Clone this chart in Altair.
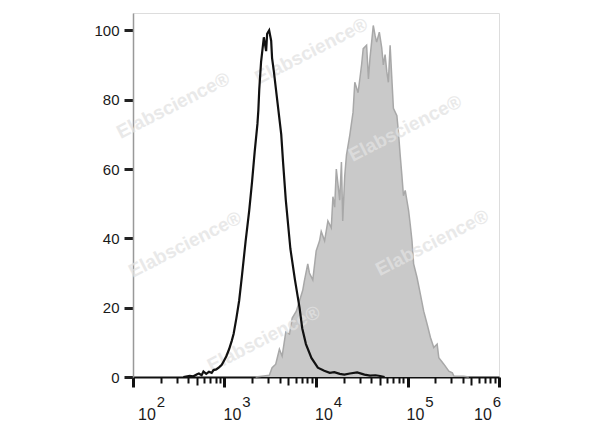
import altair as alt
import pandas as pd

# ---- data (x as log10 of intensity, y as count) ----
black_log = [2.55, 2.62, 2.66, 2.70, 2.72, 2.75, 2.77, 2.80, 2.83, 2.86,
             2.88, 2.91, 2.94, 2.97, 2.99, 3.02, 3.05, 3.08, 3.10, 3.13,
             3.16, 3.19, 3.23, 3.27, 3.30, 3.33, 3.36, 3.37, 3.38, 3.40,
             3.43, 3.455, 3.466, 3.488, 3.51, 3.52, 3.54, 3.58, 3.62, 3.64,
             3.67, 3.72, 3.77, 3.82, 3.85, 3.89, 3.95, 4.02, 4.09, 4.15,
             4.20, 4.26, 4.31, 4.37, 4.45, 4.53, 4.59, 4.65, 4.70, 4.75]
black_cnt = [0, 0.3, 0.2, 0.8, 1.0, 0.5, 1.6, 0.9, 1.5, 1.2,
             2.0, 2.2, 2.8, 3.5, 4.5, 6.0, 8.0, 10.5, 12.5, 17,
             22, 29, 39, 48, 56, 65, 73, 77, 83, 91,
             98, 94, 99, 100, 97, 92, 88, 79, 70, 62,
             51, 37, 28, 20, 14, 9.5, 5.5, 2.7, 1.8, 1.2,
             1.4, 0.9, 0.7, 1.0, 1.3, 0.7, 0.4, 0.5, 0.3, 0]

gray_log = [3.34, 3.43, 3.49, 3.52, 3.56, 3.60, 3.63, 3.67, 3.71, 3.74,
            3.785, 3.82, 3.855, 3.873, 3.91, 3.928, 3.965, 4.002, 4.039, 4.057,
            4.094, 4.13, 4.167, 4.185, 4.204, 4.222, 4.259, 4.278, 4.292, 4.314,
            4.333, 4.369, 4.405, 4.424, 4.46, 4.498, 4.516, 4.553, 4.573, 4.59,
            4.608, 4.626, 4.645, 4.663, 4.692, 4.718, 4.736, 4.755, 4.774, 4.791,
            4.81, 4.829, 4.846, 4.884, 4.901, 4.92, 4.939, 4.956, 4.975, 5.012,
            5.03, 5.049, 5.067, 5.104, 5.14, 5.177, 5.214, 5.251, 5.287, 5.324,
            5.342, 5.397, 5.452, 5.49, 5.507, 5.614, 5.67]
gray_cnt = [0, 0.3, 0.5, 2.7, 3.7, 8, 6, 13, 12.4, 17,
            19, 22, 25, 27.7, 32.6, 30, 28, 36.4, 39.3, 42,
            39.3, 45, 43, 52, 49, 60, 51, 62, 45, 58,
            64, 69.7, 76.4, 85, 82, 90, 94.7, 95.7, 86, 92,
            96.6, 101.4, 98.6, 96.6, 99.5, 95, 90, 93, 88, 85,
            95.7, 86, 77.5, 75.4, 70.6, 64, 58, 52.3, 53.8, 48,
            44, 39.3, 32.6, 28.7, 24, 19, 15.3, 11.4, 8.5, 9.5,
            5.6, 3.7, 1.7, 1.2, 0.3, 0.2, 0]

decades = [2, 3, 4, 5, 6]
y_ticks = [0, 5, 10, 15, 20, 25, 30, 35, 40, 45, 50, 55, 60, 65, 70, 75, 80,
           85, 90, 95, 100, 105]

wm_log = [2.44, 3.95, 4.975, 5.27, 2.57, 3.43]
wm_cnt = [78.3, 94.0, 71.7, 38.7, 38.2, 11.0]
wm_label = "Elabscience®"

# ---- tables ----
black = pd.DataFrame({"x": [10 ** v for v in black_log], "y": black_cnt})
gray = pd.DataFrame({"x": [10 ** v for v in gray_log], "y": gray_cnt})
labels = pd.DataFrame({"x": [10 ** d for d in decades],
                       "base": ["10"] * len(decades),
                       "sup": [str(d) for d in decades]})
wm = pd.DataFrame({"x": [10 ** v for v in wm_log], "y": wm_cnt,
                   "t": [wm_label] * len(wm_log)})

x_tick_values = [m * 10 ** d for d in decades[:-1] for m in range(1, 10)] + [10 ** 6]

W, H = 366, 364
FONT = "Liberation Sans"

xscale = alt.Scale(type="log", domain=[100, 1e6], nice=False)
yscale = alt.Scale(domain=[0, 105], nice=False, zero=True)

is_major = "abs(log(datum.value)/LN10 - round(log(datum.value)/LN10)) < 0.001"
is_five = "abs(datum.value / pow(10, floor(log(datum.value)/LN10 + 0.001)) - 5) < 0.01"

x_axis = alt.Axis(values=x_tick_values, labels=False, title=None, grid=False,
                  domainColor="#111", domainWidth=2,
                  tickColor="#111",
                  tickSize={"condition": [{"test": is_major, "value": 10},
                                          {"test": is_five, "value": 8}],
                            "value": 6},
                  tickWidth={"condition": {"test": is_major, "value": 3},
                             "value": 2})

y_axis = alt.Axis(values=y_ticks, title=None, grid=False,
                  domainColor="#999", domainWidth=1.5,
                  tickColor="#222",
                  tickSize={"condition": {"test": "datum.value % 20 == 0", "value": 9},
                            "value": 5},
                  tickWidth={"condition": {"test": "datum.value % 20 == 0", "value": 3},
                             "value": 1.5},
                  labelExpr="datum.value % 20 == 0 ? datum.label : ''",
                  labelFont=FONT, labelFontSize=15, labelColor="#1a1a1a",
                  labelPadding=5)

area = alt.Chart(gray).mark_area(
    color="#c9c9c9", opacity=1, interpolate="linear",
    line={"color": "#a8a8a8", "strokeWidth": 1.5}
).encode(
    x=alt.X("x:Q", scale=xscale, axis=x_axis),
    y=alt.Y("y:Q", scale=yscale, axis=y_axis),
)

marks_wm = alt.Chart(wm).mark_text(
    angle=333, font=FONT, fontSize=19, fontWeight="bold",
    color="#e2e2e2", opacity=0.75
).encode(x=alt.X("x:Q", scale=xscale), y=alt.Y("y:Q", scale=yscale), text="t:N")

line = alt.Chart(black).mark_line(
    color="#111111", strokeWidth=2.2, interpolate="linear"
).encode(x=alt.X("x:Q", scale=xscale), y=alt.Y("y:Q", scale=yscale))


def lab(cond, dx_base, dx_sup):
    base = alt.Chart(labels).transform_filter(cond).mark_text(
        font=FONT, fontSize=16, color="#1a1a1a", align="center", dx=dx_base
    ).encode(x=alt.X("x:Q", scale=xscale), y=alt.value(H + 38), text="base:N")
    sup = alt.Chart(labels).transform_filter(cond).mark_text(
        font=FONT, fontSize=15, color="#1a1a1a", align="center", dx=dx_sup
    ).encode(x=alt.X("x:Q", scale=xscale), y=alt.value(H + 25), text="sup:N")
    return base + sup


labs = (lab("datum.x < 150", 14, 28)
        + lab("datum.x > 150 && datum.x < 500000", 8, 22)
        + lab("datum.x > 500000", -16, -2))

chart = alt.layer(area, marks_wm, line, labs).properties(
    width=W, height=H,
    autosize="none",
    padding={"left": 125, "top": 5, "right": 60, "bottom": 50},
).configure_view(stroke="#999", strokeWidth=1.5).configure(background="white")

chart.save("out.html", embed_options={"renderer": "svg", "actions": False})
